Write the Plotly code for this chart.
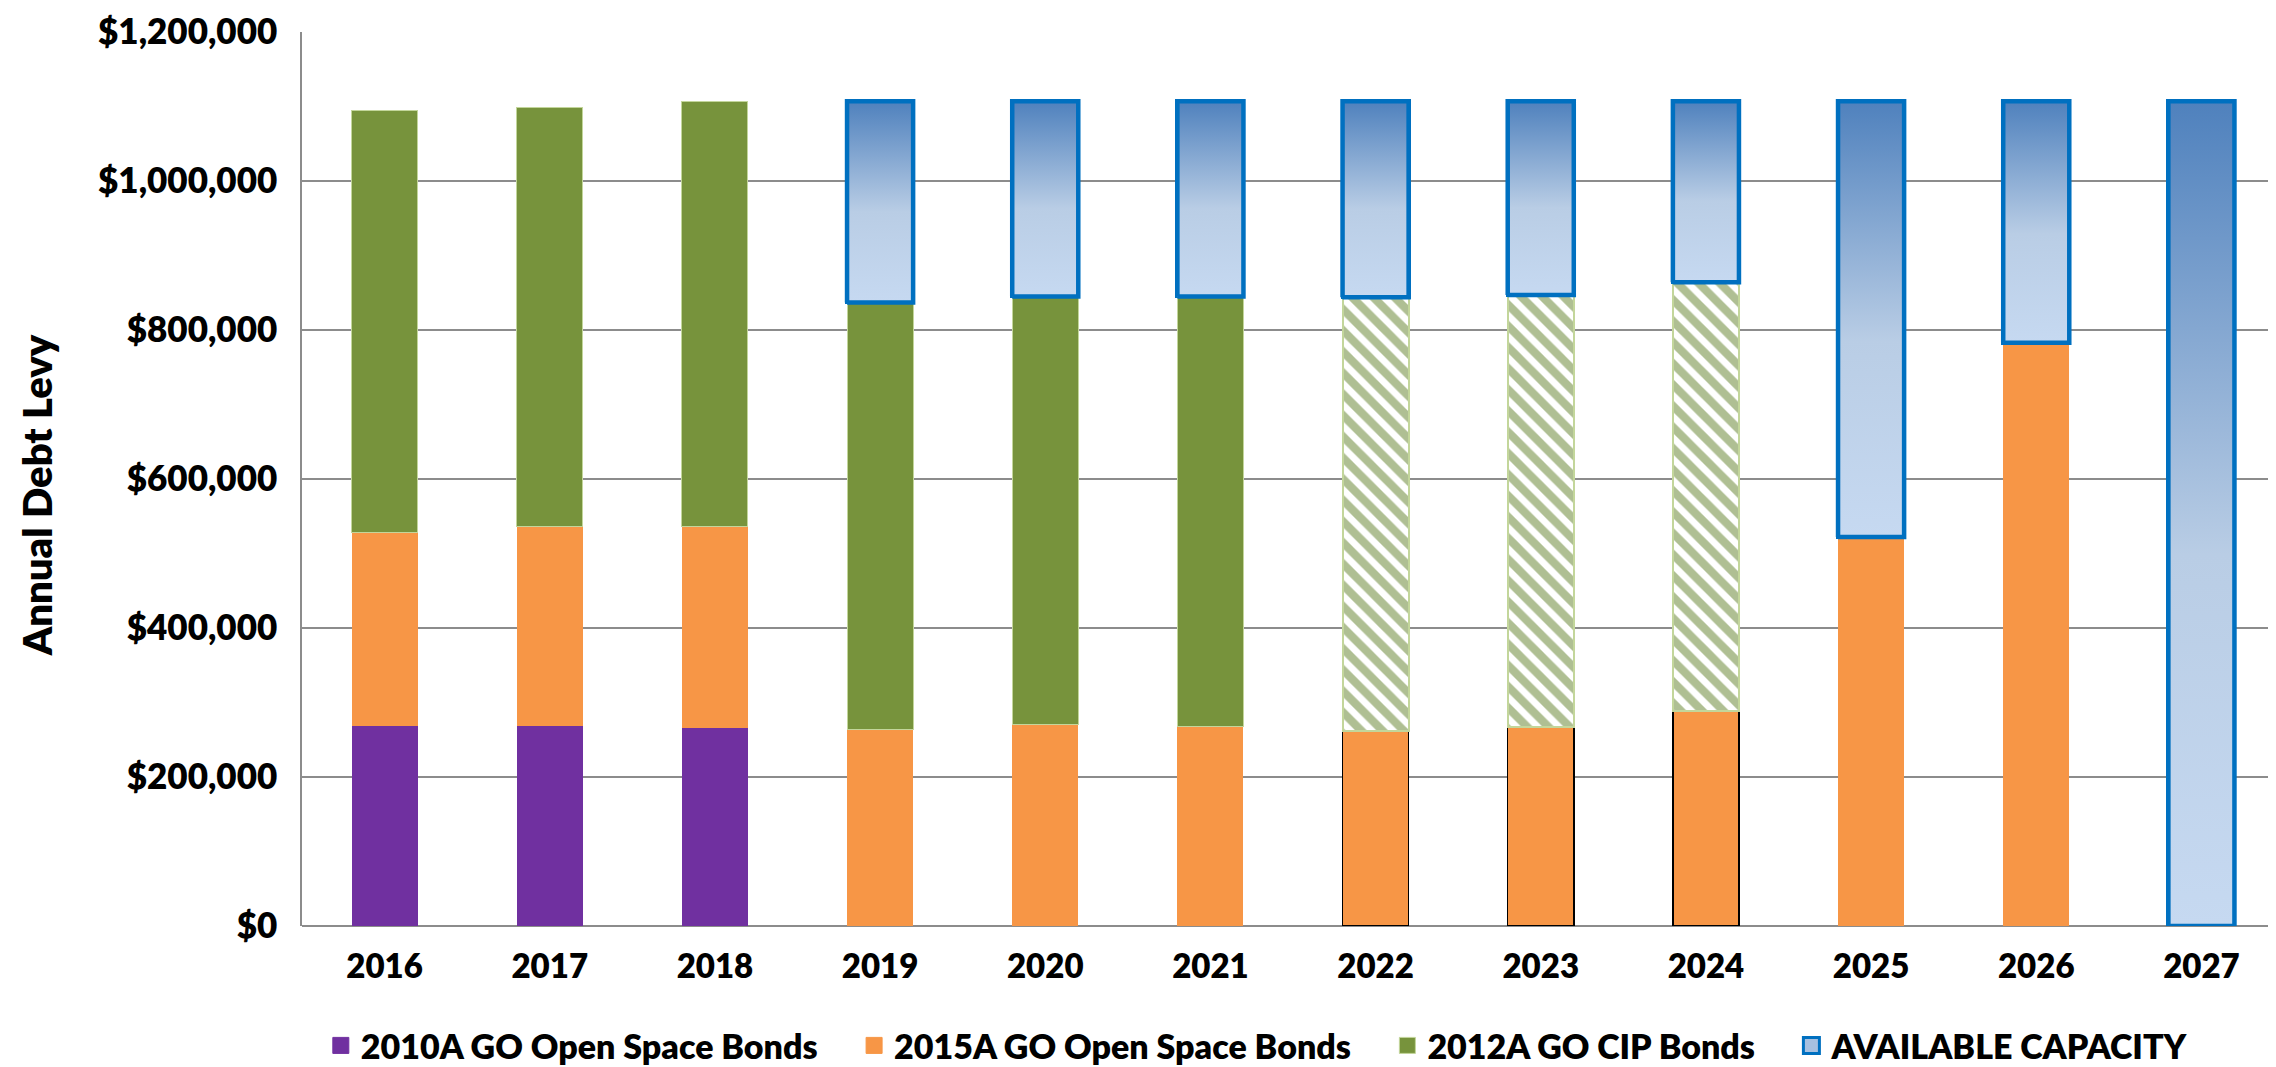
import plotly.graph_objects as go

years = [2016, 2017, 2018, 2019, 2020, 2021, 2022, 2023, 2024, 2025, 2026, 2027]
go_2010a = [268000, 268000, 266000, None, None, None, None, None, None, None, None, None]
go_2015a = [260000, 268000, 270000, 264000, 270000, 268000, 262000, 267000, 289000, 522000, 783000, None]
go_2012a = [567000, 563000, 571000, 573000, 575000, 577000, None, None, None, None, None, None]
go_2012a_hatched = [None, None, None, None, None, None, 582000, 580000, 575000, None, None, None]
capacity = [None, None, None, 270000, 262000, 262000, 263000, 260000, 243000, 585000, 324000, 1107000]
tick_vals = [0, 200000, 400000, 600000, 800000, 1000000, 1200000]
tick_text = ["$0", "$200,000", "$400,000", "$600,000", "$800,000", "$1,000,000", "$1,200,000"]

bar_w = 0.4
font = dict(family="Lato", size=33, color="black", weight=800)

fig = go.Figure()
fig.add_trace(go.Bar(x=years, y=go_2010a, width=bar_w, showlegend=False,
                     marker=dict(color="#7030a0", line=dict(width=0))))
orange_lw = [1.5 if v is not None and h is not None else 0 for v, h in zip(go_2015a, go_2012a_hatched)]
fig.add_trace(go.Bar(x=years, y=go_2015a, width=bar_w, showlegend=False,
                     marker=dict(color="#f79646", line=dict(color="black", width=orange_lw))))
fig.add_trace(go.Bar(x=years, y=go_2012a, width=bar_w, showlegend=False,
                     marker=dict(color="#77933c", line=dict(color="#c3d69b", width=1))))
fig.add_trace(go.Bar(x=years, y=go_2012a_hatched, width=bar_w, showlegend=False,
                     marker=dict(color="white", line=dict(color="#c3d69b", width=2),
                                 pattern=dict(shape="\\", fgcolor="#607f28", bgcolor="white",
                                              size=15, solidity=0.55))))
fig.add_trace(go.Bar(x=years, y=capacity, width=bar_w, showlegend=False,
                     marker=dict(color="#a7c0e0", line=dict(color="#0070c0", width=4))))

# gradient overlay for the capacity bars
for i, yr in enumerate(years):
    if capacity[i] is None:
        continue
    base = sum(s[i] or 0 for s in (go_2010a, go_2015a, go_2012a, go_2012a_hatched))
    top = base + capacity[i]
    fig.add_trace(go.Scatter(
        x=[yr - bar_w / 2, yr + bar_w / 2, yr + bar_w / 2, yr - bar_w / 2, yr - bar_w / 2],
        y=[base, base, top, top, base],
        mode="lines", fill="toself", showlegend=False, hoverinfo="skip",
        line=dict(color="#0070c0", width=4.5),
        fillgradient=dict(type="vertical",
                          colorscale=[[0, "#c6d9f1"], [0.45, "#b9cde5"], [1, "#4f81bd"]])))

# legend entries
gap = "\u00a0" * 4
legend_items = [("2010A GO Open Space Bonds" + gap, "#7030a0", "#7030a0"),
                ("2015A GO Open Space Bonds" + gap, "#f79646", "#f79646"),
                ("2012A GO CIP Bonds" + gap, "#77933c", "#c3d69b"),
                ("AVAILABLE CAPACITY", "#a7c0e0", "#0070c0")]
for name, fill, edge in legend_items:
    fig.add_trace(go.Scatter(x=[None], y=[None], mode="markers", name=name,
                             marker=dict(symbol="square", size=20, color=fill,
                                         line=dict(color=edge, width=3 if edge == "#0070c0" else 1))))

fig.add_annotation(text="Annual Debt Levy", textangle=-90, xref="paper", yref="paper",
                   x=-0.1336, xanchor="center", y=0.482, yanchor="middle", showarrow=False,
                   font=dict(family="Lato", size=40, color="black", weight=800))

fig.update_layout(
    width=2276, height=1067,
    barmode="stack",
    plot_bgcolor="white", paper_bgcolor="white",
    font=font,
    margin=dict(l=294, r=0, t=24, b=146),
    legend=dict(orientation="h", x=0.482, xanchor="center", y=-0.134, yanchor="middle",
                font=dict(family="Lato", size=34, color="black", weight=800),
                traceorder="normal", itemsizing="trace"),
)
fig.update_xaxes(range=[2015.5, 2027.5], tickvals=years, showgrid=False, ticks="",
                 ticklabelstandoff=18, showline=False, zeroline=False)
fig.update_yaxes(range=[0, 1200000], tickvals=tick_vals, ticktext=tick_text,
                 tickfont=dict(family="Lato", size=35, color="black", weight=800),
                 showgrid=True, gridcolor="#8c8c8c", gridwidth=1.5,
                 showline=True, linecolor="#8c8c8c", linewidth=1.5,
                 zeroline=True, zerolinecolor="#8c8c8c", zerolinewidth=1.5,
                 ticks="", ticklabelstandoff=16)

fig.write_html("out.html")
